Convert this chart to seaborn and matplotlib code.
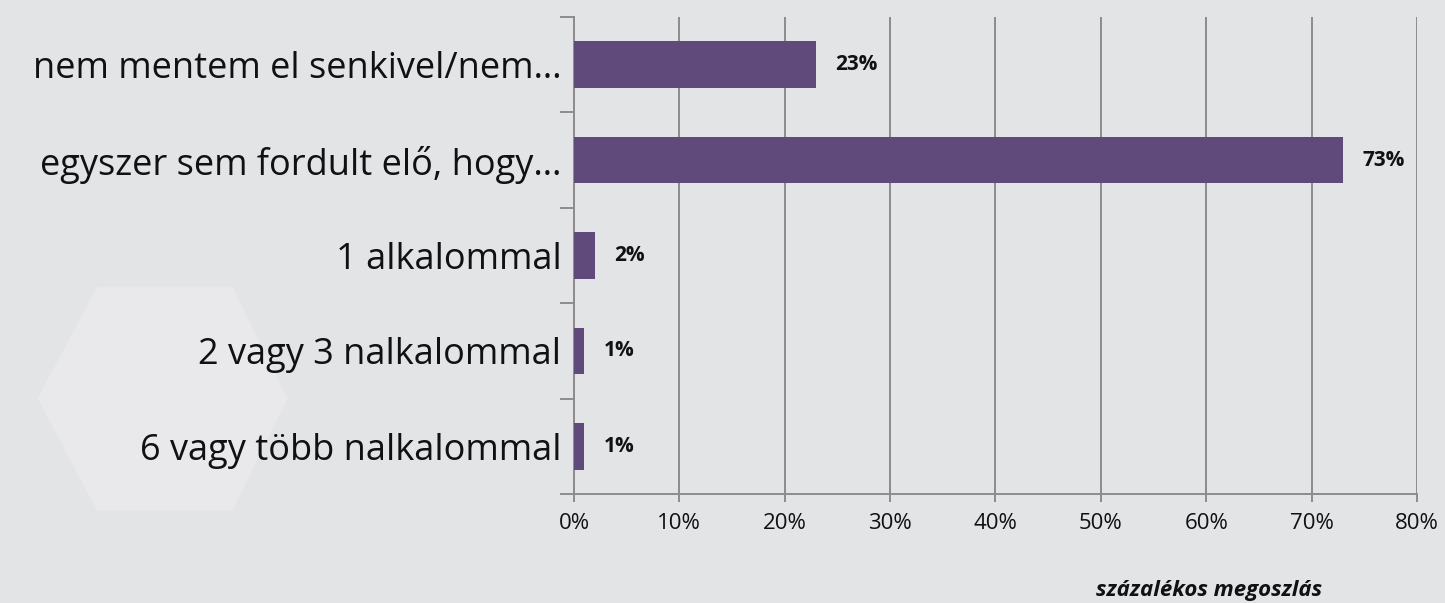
import matplotlib
matplotlib.use('Agg')
import matplotlib.pyplot as plt
import seaborn as sns
import pandas as pd
from matplotlib.patches import Polygon
from matplotlib.ticker import FixedLocator, PercentFormatter

categories = ['nem mentem el senkivel/nem…',
              'egyszer sem fordult elő, hogy…',
              '1 alkalommal',
              '2 vagy 3 nalkalommal',
              '6 vagy több nalkalommal']
values = [23, 73, 2, 1, 1]
x_ticks = [0, 10, 20, 30, 40, 50, 60, 70, 80]

bg = '#e3e4e6'
bar_color = '#604a7b'
grid_color = '#8c8c8c'

sns.set_theme(style='white')
plt.rcParams['font.family'] = ['Open Sans', 'DejaVu Sans']

df = pd.DataFrame({'cat': categories, 'val': values})

fig = plt.figure(figsize=(14.45, 6.03), dpi=100)
fig.patch.set_facecolor(bg)

# faint hexagon decoration in the background
hexagon = Polygon([(0.026, 0.339), (0.067, 0.524), (0.161, 0.524),
                   (0.199, 0.339), (0.161, 0.154), (0.067, 0.154)],
                  closed=True, transform=fig.transFigure,
                  facecolor='#e9e9eb', edgecolor='none', zorder=-5)
fig.patches.append(hexagon)

ax = fig.add_axes([0.3972, 0.1808, 0.5834, 0.791])
ax.set_facecolor('none')

sns.barplot(data=df, y='cat', x='val', orient='h', color=bar_color,
            saturation=1, width=0.49, linewidth=0, ax=ax, zorder=3)

for i, v in enumerate(values):
    ax.text(v + 1.8, i, f'{v}%', va='center', ha='left',
            fontsize=15, fontweight='bold', color='#111111', zorder=4)

ax.set_xlim(0, 80)
ax.set_ylim(4.5, -0.5)
ax.xaxis.set_major_locator(FixedLocator(x_ticks))
ax.xaxis.set_major_formatter(PercentFormatter(decimals=0))
ax.grid(axis='x', color=grid_color, linewidth=1.4, zorder=1)

for side in ['top', 'right']:
    ax.spines[side].set_visible(False)
for side in ['left', 'bottom']:
    ax.spines[side].set_color(grid_color)
    ax.spines[side].set_linewidth(1.4)

ax.yaxis.set_minor_locator(FixedLocator([-0.5, 0.5, 1.5, 2.5, 3.5, 4.5]))
ax.tick_params(axis='y', which='major', length=0, pad=9,
               labelsize=26, labelcolor='#111111')
ax.tick_params(axis='y', which='minor', left=True, length=10,
               width=1.4, color=grid_color, direction='out')
ax.tick_params(axis='x', which='major', bottom=True, length=6, width=1.4,
               color=grid_color, direction='out', pad=8,
               labelsize=16, labelcolor='#111111')

ax.set_ylabel('')
ax.set_xlabel('')
fig.text(0.837, 0.012, 'százalékos megoszlás', ha='center', va='baseline',
         fontsize=16, fontweight='bold', fontstyle='italic', color='#111111')

fig.savefig('out.png', dpi=100, facecolor=bg)
